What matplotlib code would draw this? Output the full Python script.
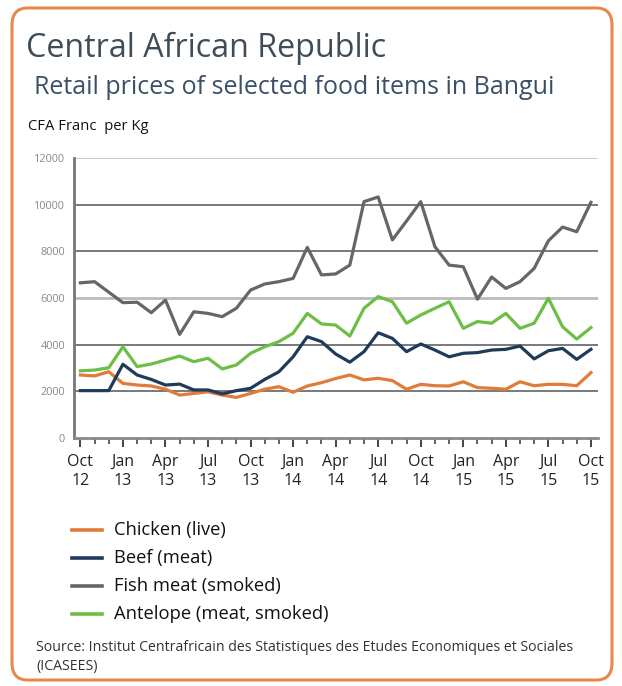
import matplotlib.pyplot as plt
from matplotlib.patches import FancyBboxPatch
from matplotlib.lines import Line2D

plt.rcParams['font.family'] = ['Open Sans', 'DejaVu Sans']

# monthly retail prices, Oct 2012 .. Oct 2015 (CFA franc per kg)
months = list(range(37))
chicken = [2700, 2660, 2840, 2340, 2270, 2230, 2090, 1840, 1910, 1980, 1840, 1740, 1910,
           2090, 2200, 1960, 2230, 2370, 2550, 2700, 2490, 2560, 2460, 2090, 2300, 2240,
           2230, 2410, 2160, 2130, 2090, 2410, 2240, 2300, 2300, 2240, 2800]
beef = [2030, 2030, 2030, 3160, 2700, 2510, 2270, 2310, 2060, 2060, 1890, 2030, 2130,
        2510, 2840, 3480, 4340, 4130, 3600, 3250, 3700, 4510, 4270, 3700, 4030, 3770,
        3480, 3630, 3660, 3770, 3800, 3940, 3390, 3740, 3840, 3370, 3800]
fish = [6650, 6700, 6250, 5800, 5820, 5370, 5910, 4440, 5410, 5340, 5200, 5560, 6340,
        6600, 6700, 6840, 8170, 6990, 7030, 7410, 10130, 10330, 8490, 9300, 10130, 8200,
        7410, 7340, 5950, 6900, 6410, 6700, 7270, 8450, 9040, 8840, 10100]
antelope = [2880, 2910, 3010, 3910, 3060, 3170, 3340, 3510, 3270, 3420, 2960, 3130, 3630,
            3910, 4130, 4490, 5340, 4890, 4840, 4370, 5560, 6060, 5840, 4920, 5270, 5560,
            5840, 4700, 4990, 4920, 5340, 4700, 4920, 5990, 4770, 4240, 4730]

series_names = ['Chicken (live)', 'Beef (meat)', 'Fish meat (smoked)', 'Antelope (meat, smoked)']
series_colors = ['#E07B39', '#1F3A5A', '#666666', '#6DBE45']

tick_pos = list(range(0, 37, 3))
tick_labels = ['Oct\n12', 'Jan\n13', 'Apr\n13', 'Jul\n13', 'Oct\n13', 'Jan\n14', 'Apr\n14',
               'Jul\n14', 'Oct\n14', 'Jan\n15', 'Apr\n15', 'Jul\n15', 'Oct\n15']
y_ticks = [0, 2000, 4000, 6000, 8000, 10000, 12000]

W, H = 622, 686
fig = plt.figure(figsize=(W / 100, H / 100), dpi=100)
fig.patch.set_facecolor('white')


def fx(px):
    return px / W


def fy(py):
    return 1 - py / H


# rounded orange frame
frame = FancyBboxPatch((fx(12), fy(680)), fx(600), 672 / H,
                       boxstyle='round,pad=0,rounding_size=0.025',
                       transform=fig.transFigure, facecolor='none',
                       edgecolor='#E8884F', linewidth=2.2, zorder=5)
fig.patches.append(frame)

fig.text(fx(26), fy(48), 'Central African Republic', fontsize=23.2,
         color='#3E4D59', va='center', ha='left')
fig.text(fx(34), fy(88), 'Retail prices of selected food items in Bangui',
         fontsize=18, color='#3A5068', va='center', ha='left')
fig.text(fx(28), fy(126), 'CFA Franc  per Kg', fontsize=10.6, color='#111111',
         va='center', ha='left')

ax = fig.add_axes([fx(74), fy(438), 524 / W, 280 / H])
for vals, name, col in zip([chicken, beef, fish, antelope], series_names, series_colors):
    ax.plot(months, vals, color=col, linewidth=2.3, label=name, zorder=3)

ax.set_xlim(-0.45, 36.5)
ax.set_ylim(0, 12000)
ax.set_yticks(y_ticks)
ax.set_yticklabels([str(v) for v in y_ticks], fontsize=7.8, color='#888888')
for v in y_ticks[1:]:
    col = '#BBBBBB' if v in (6000, 12000) else '#555555'
    lw = 2.0 if v == 6000 else 1.1
    ax.axhline(v, color=col, linewidth=lw, zorder=1)

ax.set_xticks(tick_pos)
ax.set_xticklabels(tick_labels, fontsize=11.5, color='#222222', linespacing=1.25)
ax.set_xticks(months, minor=True)
ax.tick_params(axis='x', which='major', length=6.5, width=1.4, color='#444444', pad=5)
ax.tick_params(axis='x', which='minor', length=4.5, width=1.2, color='#444444')
ax.tick_params(axis='y', length=0, pad=6.5)

for s in ['top', 'right']:
    ax.spines[s].set_visible(False)
ax.spines['left'].set_color('#777777')
ax.spines['left'].set_linewidth(2)
ax.spines['bottom'].set_color('#888888')
ax.spines['bottom'].set_linewidth(2)

# legend, one row per series
legend_rows = [530, 558, 586, 614]
for name, col, row in zip(series_names, series_colors, legend_rows):
    fig.add_artist(Line2D([fx(72), fx(102)], [fy(row), fy(row)], color=col,
                          linewidth=2.6, transform=fig.transFigure))
    fig.text(fx(114), fy(row), name, fontsize=13.2, color='#111111',
             va='center', ha='left')

fig.text(fx(36), fy(657),
         'Source: Institut Centrafricain des Statistiques des Etudes Economiques et Sociales\n(ICASEES)',
         fontsize=10.2, color='#333333', va='center', ha='left', linespacing=1.3)

fig.savefig('out.png', dpi=100)
